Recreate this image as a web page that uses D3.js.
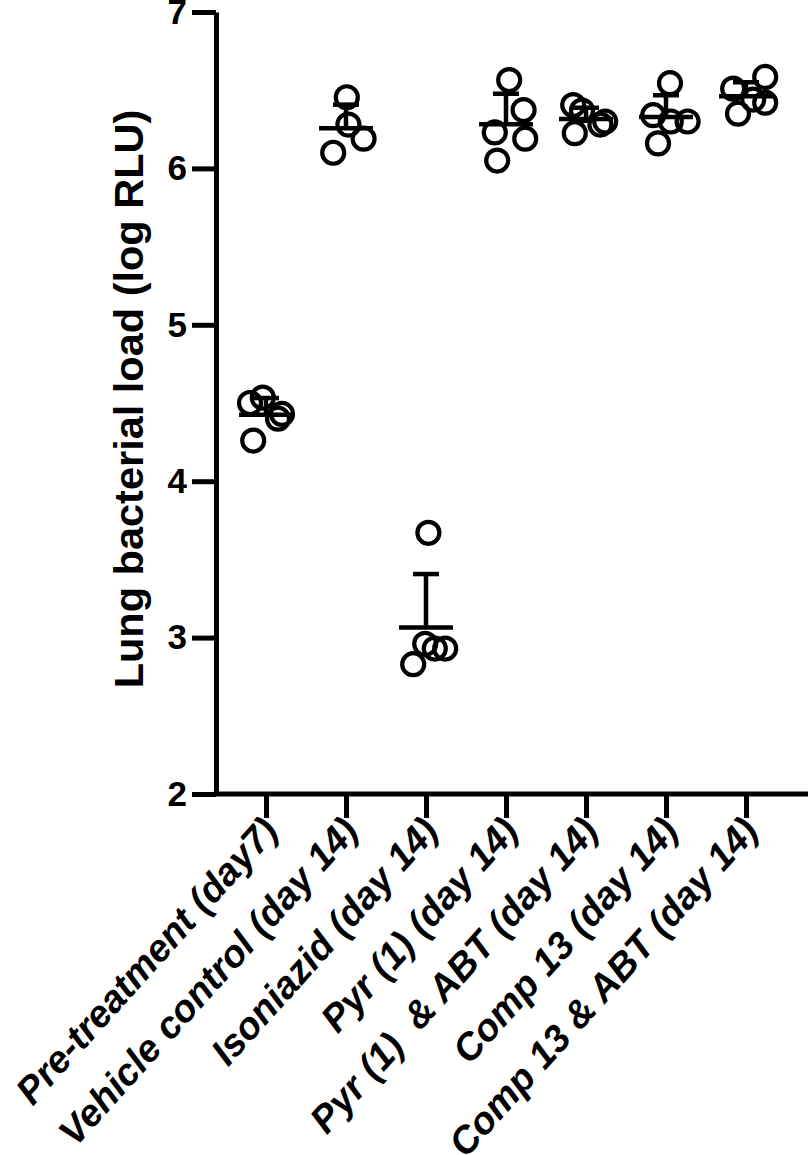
<!DOCTYPE html>
<html lang="en">
<head>
  <script src="https://d3js.org/d3.v7.min.js"></script>
  <style>
    body {
      margin: 0;
      background: white;
      font-family: "Liberation Sans", Arial, sans-serif;
    }
  </style>
</head>
<body>
<div id="chart"></div>
<script>
  // groups, left to right
  var groups = ["Pre-treatment (day7)", "Vehicle control (day 14)", "Isoniazid (day 14)",
    "Pyr (1) (day 14)", "Pyr (1)  & ABT (day 14)", "Comp 13 (day 14)", "Comp 13 & ABT (day 14)"];

  // lung bacterial load per mouse, log RLU
  var preTreatment = [4.535, 4.50, 4.43, 4.40, 4.26];
  var vehicle = [6.455, 6.28, 6.19, 6.10];
  var isoniazid = [3.67, 2.96, 2.93, 2.93, 2.83];
  var pyr = [6.565, 6.373, 6.23, 6.19, 6.05];
  var pyrAbt = [6.405, 6.37, 6.30, 6.28, 6.225];
  var comp13 = [6.545, 6.34, 6.30, 6.30, 6.16];
  var comp13Abt = [6.585, 6.51, 6.44, 6.42, 6.35];

  // horizontal scatter of the dots, as a fraction of the category step
  var jitter = [
    [-0.04, -0.2, 0.2, 0.15, -0.16],
    [0.01, 0.03, 0.22, -0.16],
    [0.03, -0.01, 0.11, 0.24, -0.16],
    [0.04, 0.22, -0.14, 0.24, -0.11],
    [-0.16, -0.05, 0.24, 0.18, -0.14],
    [0.05, -0.16, 0.06, 0.27, -0.1],
    [0.24, -0.16, 0.09, 0.24, -0.1]
  ];

  var yTicks = [2, 3, 4, 5, 6, 7];

  var series = [preTreatment, vehicle, isoniazid, pyr, pyrAbt, comp13, comp13Abt];

  var W = 810, H = 1155;
  var plotLeft = 216, plotRight = 808, plotTop = 12, plotBottom = 794;

  var svg = d3.select("#chart").append("svg")
          .attr("width", W)
          .attr("height", H)
          .style("background-color", "white");

  var x = d3.scalePoint().domain(groups).range([266, 746]);
  var y = d3.scaleLinear().domain([2, 7]).range([plotBottom, plotTop]);

  // y axis
  var gY = svg.append("g")
          .attr("transform", "translate(" + plotLeft + ",0)")
          .call(d3.axisLeft(y).tickValues(yTicks).tickFormat(d3.format("d"))
                  .tickSize(24).tickSizeOuter(0).tickPadding(5));
  gY.select(".domain").attr("stroke-width", 5).attr("stroke", "#000");
  gY.selectAll(".tick line").attr("stroke-width", 5).attr("stroke", "#000");
  gY.selectAll(".tick text")
          .attr("fill", "#000")
          .style("font", "bold 35px 'Liberation Sans', Arial, sans-serif");

  // x axis
  var gX = svg.append("g")
          .attr("transform", "translate(0," + plotBottom + ")")
          .call(d3.axisBottom(x).tickSize(24).tickSizeOuter(0).tickFormat(""));
  gX.select(".domain").remove();
  gX.selectAll(".tick line").attr("stroke-width", 5).attr("stroke", "#000");
  svg.append("line")
          .attr("x1", plotLeft - 2.5).attr("x2", plotRight)
          .attr("y1", plotBottom).attr("y2", plotBottom)
          .attr("stroke", "#000").attr("stroke-width", 5);

  svg.selectAll(".xlabel")
          .data(groups).enter()
          .append("text")
          .attr("class", "xlabel")
          .attr("text-anchor", "end")
          .attr("xml:space", "preserve")
          .style("white-space", "pre")
          .attr("transform", function(d) {
            return "translate(" + (x(d) + 14) + "," + (plotBottom + 38) + ") rotate(-48)";
          })
          .style("font", "italic bold 38px 'Liberation Sans', Arial, sans-serif")
          .text(function(d) { return d; });

  svg.append("text")
          .attr("text-anchor", "middle")
          .attr("transform", "translate(143,399) rotate(-90)")
          .style("font", "bold 41.5px 'Liberation Sans', Arial, sans-serif")
          .text("Lung bacterial load (log RLU)");

  // mean and SD (drawn upward only)
  var stats = series.map(function(v, i) {
    return {g: groups[i], mean: d3.mean(v), sd: d3.deviation(v)};
  });

  var bars = svg.append("g");
  bars.selectAll(".mean").data(stats).enter().append("line")
          .attr("x1", function(d) { return x(d.g) - 27; })
          .attr("x2", function(d) { return x(d.g) + 27; })
          .attr("y1", function(d) { return y(d.mean); })
          .attr("y2", function(d) { return y(d.mean); })
          .attr("stroke", "#000").attr("stroke-width", 4.5);
  bars.selectAll(".err").data(stats).enter().append("line")
          .attr("x1", function(d) { return x(d.g); })
          .attr("x2", function(d) { return x(d.g); })
          .attr("y1", function(d) { return y(d.mean); })
          .attr("y2", function(d) { return y(d.mean + d.sd); })
          .attr("stroke", "#000").attr("stroke-width", 4.5);
  bars.selectAll(".cap").data(stats).enter().append("line")
          .attr("x1", function(d) { return x(d.g) - 13; })
          .attr("x2", function(d) { return x(d.g) + 13; })
          .attr("y1", function(d) { return y(d.mean + d.sd); })
          .attr("y2", function(d) { return y(d.mean + d.sd); })
          .attr("stroke", "#000").attr("stroke-width", 4.5);

  // dots
  var points = [];
  series.forEach(function(v, i) {
    v.forEach(function(val, j) {
      points.push({g: groups[i], value: val, dx: jitter[i][j]});
    });
  });

  svg.append("g").selectAll("circle")
          .data(points).enter()
          .append("circle")
          .attr("cx", function(d) { return x(d.g) + d.dx * x.step(); })
          .attr("cy", function(d) { return y(d.value); })
          .attr("r", 11)
          .attr("fill", "none")
          .attr("stroke", "#000")
          .attr("stroke-width", 4.2);
</script>
</body>
</html>
